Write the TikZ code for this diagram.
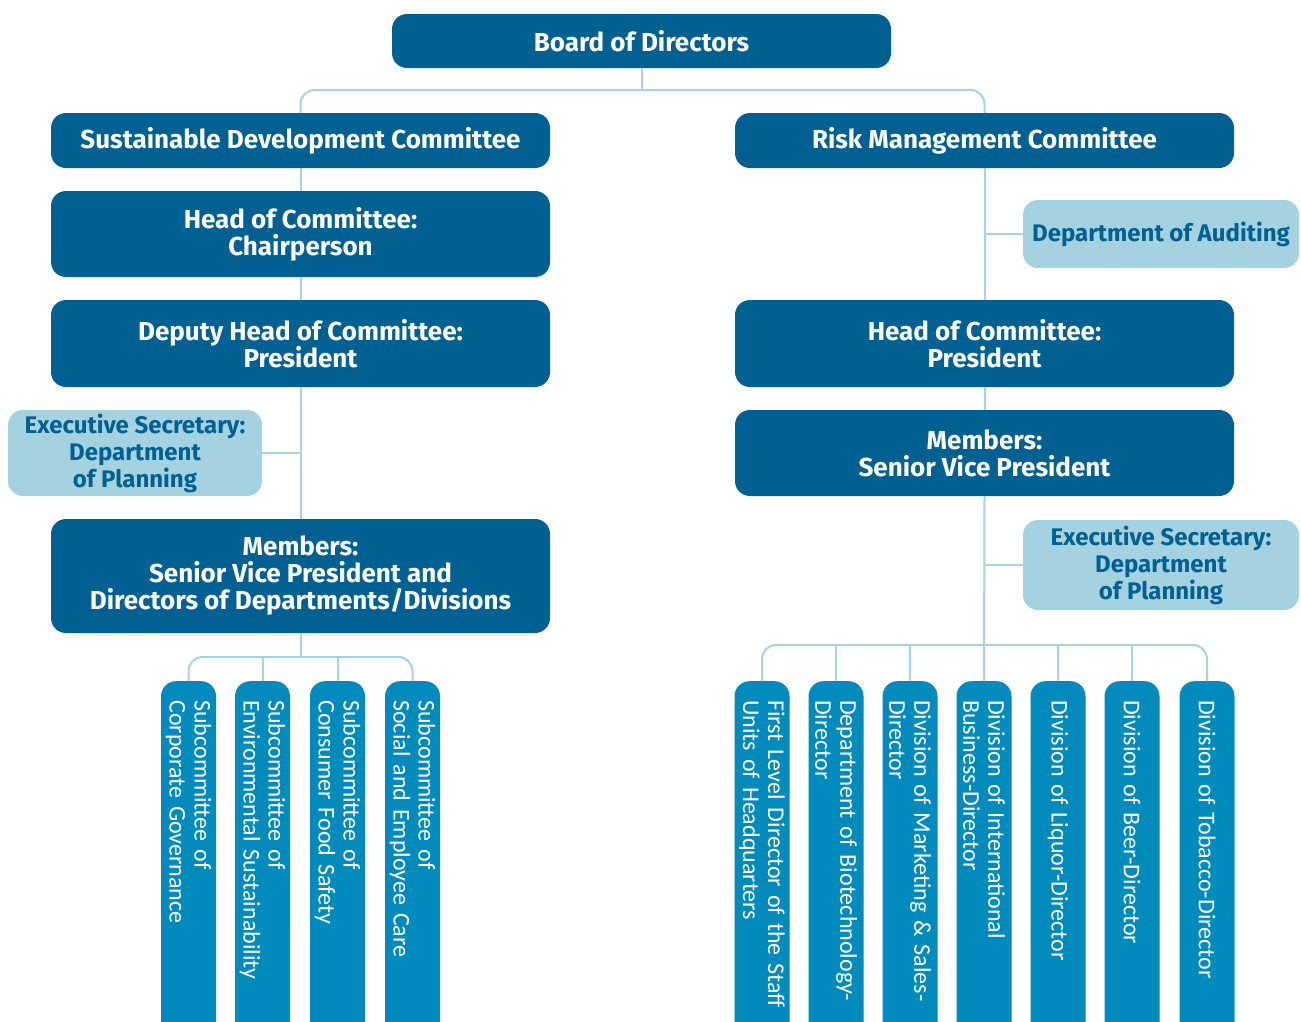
\documentclass[tikz,border=0pt]{standalone}
\usepackage{fontspec}
\setmainfont{Fira Sans}
\newfontfamily\unitfont{Carlito}
\newcommand\unittext{\unitfont\fontsize{24}{25}\selectfont\spaceskip=4pt plus 1pt\relax}
\definecolor{boardblue}{RGB}{0,96,145}
\definecolor{paleblue}{RGB}{164,210,225}
\definecolor{unitblue}{RGB}{0,139,188}
\definecolor{lineblue}{RGB}{166,211,225}

\begin{document}
\begin{tikzpicture}[x=1pt,y=-1pt,
  mainbox/.style={rounded corners=15pt, fill=boardblue, text=white, align=center,
    font=\fontsize{26}{27}\selectfont\bfseries, minimum width=499pt, inner sep=0pt},
  sidebox/.style={rounded corners=15pt, fill=paleblue, text=boardblue, align=center,
    font=\fontsize{24}{27}\selectfont\bfseries, inner sep=0pt},
  unitbox/.style={rounded corners=15pt, fill=unitblue, text=white, rotate=-90, anchor=west,
    font=\unittext, text width=350pt, align=left,
    minimum height=55pt, inner xsep=19pt, inner ysep=0pt},
  link/.style={draw=lineblue, line width=2pt, rounded corners=14pt}]
\clip (0,0) rectangle (1301,1021);

% board and committees
\node[mainbox, minimum height=54pt] (board) at (641.5,41) {Board of Directors};
\node[mainbox, minimum height=55pt] (sdc) at (300.5,140.5) {Sustainable Development Committee};
\node[mainbox, minimum height=55pt] (rmc) at (984.5,140.5) {Risk Management Committee};

% left branch
\node[mainbox, minimum height=86pt] (chair) at (300.5,234) {Head of Committee:\\Chairperson};
\node[mainbox, minimum height=87pt] (deputy) at (300.5,343.5) {Deputy Head of Committee:\\President};
\node[sidebox, minimum width=254pt, minimum height=86pt] (secl) at (135,453) {Executive Secretary:\\Department\\of Planning};
\node[mainbox, minimum height=114pt] (meml) at (300.5,576) {Members:\\Senior Vice President and\\Directors of Departments/Divisions};

% right branch
\node[sidebox, minimum width=276pt, minimum height=68pt] (audit) at (1161,234) {Department of Auditing};
\node[mainbox, minimum height=87pt] (headr) at (984.5,343.5) {Head of Committee:\\President};
\node[mainbox, minimum height=86pt] (memr) at (984.5,453) {Members:\\Senior Vice President};
\node[sidebox, minimum width=276pt, minimum height=90pt] (secr) at (1161,565) {Executive Secretary:\\Department\\of Planning};

% subcommittees
\node[unitbox] (sub1) at (188.5,681) {Subcommittee of\\Corporate Governance};
\node[unitbox] (sub2) at (262.5,681) {Subcommittee of\\Environmental Sustainability};
\node[unitbox] (sub3) at (337.5,681) {Subcommittee of\\Consumer Food Safety};
\node[unitbox] (sub4) at (412.5,681) {Subcommittee of\\Social and Employee Care};

% divisions
\node[unitbox] (div1) at (762,681) {First Level Director of the Staff\\Units of Headquarters};
\node[unitbox] (div2) at (836,681) {Department of Biotechnology-\\Director};
\node[unitbox] (div3) at (910,681) {Division of Marketing \& Sales-\\Director};
\node[unitbox] (div4) at (984,681) {Division of International\\Business-Director};
\node[unitbox] (div5) at (1058,681) {Division of Liquor-Director};
\node[unitbox] (div6) at (1132,681) {Division of Beer-Director};
\node[unitbox] (div7) at (1207,681) {Division of Tobacco-Director};

% connectors
\coordinate (topbus) at (641.5,90);
\coordinate (lbus) at (300.5,657);
\coordinate (rbus) at (984,645);
\draw[link] (board) -- (topbus);
\draw[link] (sdc.north) |- (topbus) -| (rmc.north);
\draw[link] (sdc) -- (chair);
\draw[link] (chair) -- (deputy);
\draw[link] (deputy) -- (meml);
\draw[link] (secl.east) -- (secl.east -| deputy.south);
\draw[link] (meml) -- (lbus);
\draw[link] (sub1.west) |- (lbus) -| (sub4.west);
\draw[link] (sub2.west) -- (sub2.west |- lbus);
\draw[link] (sub3.west) -- (sub3.west |- lbus);
\draw[link] (rmc) -- (headr);
\draw[link] (audit.west) -- (audit.west -| rmc.south);
\draw[link] (headr) -- (memr);
\draw[link] (memr.south) -- (div4.west);
\draw[link] (secr.west) -- (secr.west -| memr.south);
\draw[link] (div1.west) |- (rbus) -| (div7.west);
\draw[link] (div2.west) -- (div2.west |- rbus);
\draw[link] (div3.west) -- (div3.west |- rbus);
\draw[link] (div5.west) -- (div5.west |- rbus);
\draw[link] (div6.west) -- (div6.west |- rbus);
\end{tikzpicture}
\end{document}
